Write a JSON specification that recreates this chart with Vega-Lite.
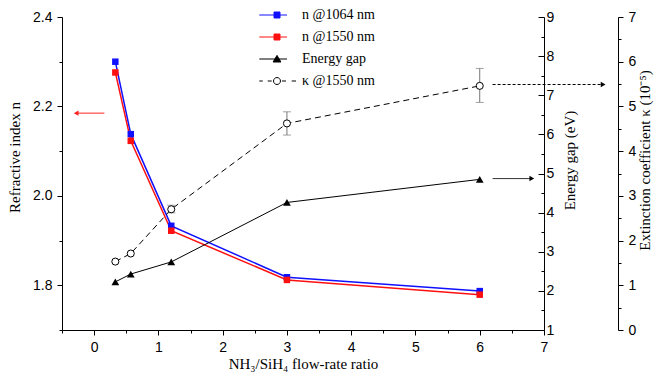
{
  "$schema": "https://vega.github.io/schema/vega-lite/v6.json",
  "width": 482,
  "height": 313,
  "autosize": "none",
  "padding": {"left": 62, "top": 17, "right": 110, "bottom": 46},
  "background": "white",
  "config": {
    "view": {"stroke": null},
    "axis": {
      "grid": false,
      "domainColor": "#000",
      "tickColor": "#000",
      "labelColor": "#000",
      "titleColor": "#000",
      "labelFont": "Liberation Sans",
      "labelFontSize": 14,
      "titleFont": "Liberation Serif",
      "titleFontSize": 15,
      "titleFontWeight": "normal",
      "domainWidth": 1,
      "tickWidth": 1,
      "labelOverlap": false,
      "tickCount": 100
    }
  },
  "datasets": {
    "pts": [
      {"series": "n @1064 nm", "x": 0.33, "v": 2.300},
      {"series": "n @1064 nm", "x": 0.57, "v": 2.138},
      {"series": "n @1064 nm", "x": 1.2, "v": 1.933},
      {"series": "n @1064 nm", "x": 3, "v": 1.818},
      {"series": "n @1064 nm", "x": 6, "v": 1.787},
      {"series": "n @1550 nm", "x": 0.33, "v": 2.276},
      {"series": "n @1550 nm", "x": 0.57, "v": 2.123},
      {"series": "n @1550 nm", "x": 1.2, "v": 1.922},
      {"series": "n @1550 nm", "x": 3, "v": 1.812},
      {"series": "n @1550 nm", "x": 6, "v": 1.779},
      {"series": "Energy gap", "x": 0.33, "v": 2.23},
      {"series": "Energy gap", "x": 0.57, "v": 2.43},
      {"series": "Energy gap", "x": 1.2, "v": 2.74},
      {"series": "Energy gap", "x": 3, "v": 4.26},
      {"series": "Energy gap", "x": 6, "v": 4.85},
      {"series": "κ @1550 nm", "x": 0.33, "v": 1.53, "lo": null, "hi": null},
      {"series": "κ @1550 nm", "x": 0.57, "v": 1.71, "lo": null, "hi": null},
      {"series": "κ @1550 nm", "x": 1.2, "v": 2.70, "lo": 2.62, "hi": 2.79},
      {"series": "κ @1550 nm", "x": 3, "v": 4.62, "lo": 4.36, "hi": 4.88},
      {"series": "κ @1550 nm", "x": 6, "v": 5.46, "lo": 5.09, "hi": 5.85}
    ],
    "arrows": [
      {"target": "n", "x1": -0.28, "x2": 0.16, "head": -0.28, "v": 2.185},
      {"target": "E", "x1": 6.2, "x2": 6.81, "head": 6.81, "v": 4.87},
      {"target": "k", "x1": 6.2, "x2": 7.92, "head": 7.92, "v": 5.49}
    ]
  },
  "layer": [
    {
      "layer": [
        {
          "data": {"name": "pts"},
          "transform": [{"filter": "datum.series == 'n @1064 nm'"}],
          "mark": {"type": "line", "color": "#1010ff", "strokeWidth": 1.5},
          "encoding": {
            "x": {"field": "x", "type": "quantitative", "title": "NH₃/SiH₄ flow-rate ratio",
              "scale": {"domain": [-0.5, 7], "nice": false, "zero": false},
              "axis": {
                "values": [-0.5, 0, 0.5, 1, 1.5, 2, 2.5, 3, 3.5, 4, 4.5, 5, 5.5, 6, 6.5, 7],
                "tickCount": 100,
                "labelExpr": "datum.value % 1 == 0 ? format(datum.value, 'd') : ''",
                "tickSize": {"condition": {"test": "datum.value % 1 != 0", "value": 3}, "value": 5},
                "labelPadding": 5,
                "titlePadding": 2,
                "labelFlush": false
              }
            },
            "y": {"field": "v", "type": "quantitative", "title": "Refractive index n",
              "scale": {"domain": [1.7, 2.4], "nice": false, "zero": false},
              "axis": {
                "values": [1.7, 1.8, 1.9, 2.0, 2.1, 2.2, 2.3, 2.4],
                "tickCount": 100,
                "labelExpr": "round(datum.value * 10) % 2 == 0 ? format(datum.value, '.1f') : ''",
                "tickSize": {"condition": {"test": "round(datum.value * 10) % 2 != 0", "value": 3}, "value": 5},
                "labelPadding": 5,
                "titlePadding": 10,
                "titleY": 140,
                "labelFlush": false
              }
            }
          }
        },
        {
          "data": {"name": "pts"},
          "transform": [{"filter": "datum.series == 'n @1550 nm'"}],
          "mark": {"type": "line", "color": "#ff1010", "strokeWidth": 1.5},
          "encoding": {
            "x": {"field": "x", "type": "quantitative", "title": "NH₃/SiH₄ flow-rate ratio"},
            "y": {"field": "v", "type": "quantitative", "title": "Refractive index n"}
          }
        },
        {
          "data": {"name": "pts"},
          "transform": [{"filter": "datum.series == 'n @1064 nm'"}],
          "mark": {"type": "point", "shape": "square", "filled": true, "color": "#1010ff", "size": 42, "opacity": 1},
          "encoding": {
            "x": {"field": "x", "type": "quantitative", "title": "NH₃/SiH₄ flow-rate ratio"},
            "y": {"field": "v", "type": "quantitative", "title": "Refractive index n"}
          }
        },
        {
          "data": {"name": "pts"},
          "transform": [{"filter": "datum.series == 'n @1550 nm'"}],
          "mark": {"type": "point", "shape": "square", "filled": true, "color": "#ff1010", "size": 42, "opacity": 1},
          "encoding": {
            "x": {"field": "x", "type": "quantitative", "title": "NH₃/SiH₄ flow-rate ratio"},
            "y": {"field": "v", "type": "quantitative", "title": "Refractive index n"}
          }
        },
        {
          "data": {"name": "arrows"},
          "transform": [{"filter": "datum.target == 'n'"}],
          "mark": {"type": "rule", "color": "#ff2020", "strokeWidth": 1},
          "encoding": {
            "x": {"field": "x1", "type": "quantitative", "title": "NH₃/SiH₄ flow-rate ratio"},
            "x2": {"field": "x2"},
            "y": {"field": "v", "type": "quantitative", "title": "Refractive index n"}
          }
        },
        {
          "data": {"name": "arrows"},
          "transform": [{"filter": "datum.target == 'n'"}],
          "mark": {"type": "point", "shape": "triangle-left", "filled": true, "color": "#ff2020", "size": 30, "opacity": 1},
          "encoding": {
            "x": {"field": "head", "type": "quantitative", "title": "NH₃/SiH₄ flow-rate ratio"},
            "y": {"field": "v", "type": "quantitative", "title": "Refractive index n"}
          }
        }
      ]
    },
    {
      "layer": [
        {
          "data": {"name": "pts"},
          "transform": [{"filter": "datum.series == 'Energy gap'"}],
          "mark": {"type": "line", "color": "#000", "strokeWidth": 1},
          "encoding": {
            "x": {"field": "x", "type": "quantitative", "title": "NH₃/SiH₄ flow-rate ratio"},
            "y": {"field": "v", "type": "quantitative", "title": "Energy gap (eV)",
              "scale": {"domain": [1, 9], "nice": false, "zero": false},
              "axis": {
                "orient": "right",
                "values": [1, 1.5, 2, 2.5, 3, 3.5, 4, 4.5, 5, 5.5, 6, 6.5, 7, 7.5, 8, 8.5, 9],
                "tickCount": 100,
                "labelExpr": "datum.value % 1 == 0 ? format(datum.value, 'd') : ''",
                "tickSize": {"condition": {"test": "datum.value % 1 != 0", "value": -3}, "value": -6},
                "labelPadding": 8,
                "titlePadding": 9,
                "titleAngle": 270,
                "titleBaseline": "top",
                "titleY": 143,
                "labelFlush": false
              }
            }
          }
        },
        {
          "data": {"name": "pts"},
          "transform": [{"filter": "datum.series == 'Energy gap'"}],
          "mark": {"type": "point", "shape": "triangle-up", "filled": true, "color": "#000", "size": 60, "opacity": 1},
          "encoding": {
            "x": {"field": "x", "type": "quantitative", "title": "NH₃/SiH₄ flow-rate ratio"},
            "y": {"field": "v", "type": "quantitative", "title": "Energy gap (eV)"}
          }
        },
        {
          "data": {"name": "arrows"},
          "transform": [{"filter": "datum.target == 'E'"}],
          "mark": {"type": "rule", "color": "#333", "strokeWidth": 1},
          "encoding": {
            "x": {"field": "x1", "type": "quantitative", "title": "NH₃/SiH₄ flow-rate ratio"},
            "x2": {"field": "x2"},
            "y": {"field": "v", "type": "quantitative", "title": "Energy gap (eV)"}
          }
        },
        {
          "data": {"name": "arrows"},
          "transform": [{"filter": "datum.target == 'E'"}],
          "mark": {"type": "point", "shape": "triangle-right", "filled": true, "color": "#000", "size": 30, "opacity": 1},
          "encoding": {
            "x": {"field": "head", "type": "quantitative", "title": "NH₃/SiH₄ flow-rate ratio"},
            "y": {"field": "v", "type": "quantitative", "title": "Energy gap (eV)"}
          }
        }
      ]
    },
    {
      "layer": [
        {
          "data": {"name": "pts"},
          "transform": [{"filter": "datum.series == 'κ @1550 nm'"}],
          "mark": {"type": "line", "color": "#000", "strokeWidth": 1, "strokeDash": [6, 4]},
          "encoding": {
            "x": {"field": "x", "type": "quantitative", "title": "NH₃/SiH₄ flow-rate ratio"},
            "y": {"field": "v", "type": "quantitative", "title": "Extinction coefficient  κ (10⁻⁵)",
              "scale": {"domain": [0, 7], "nice": false, "zero": false},
              "axis": {
                "orient": "right",
                "offset": 74,
                "values": [0, 0.5, 1, 1.5, 2, 2.5, 3, 3.5, 4, 4.5, 5, 5.5, 6, 6.5, 7],
                "tickCount": 100,
                "labelExpr": "datum.value % 1 == 0 ? format(datum.value, 'd') : ''",
                "tickSize": {"condition": {"test": "datum.value % 1 != 0", "value": 3}, "value": 5},
                "labelPadding": 5,
                "titlePadding": 2,
                "titleAngle": 270,
                "titleBaseline": "top",
                "titleY": 143,
                "labelFlush": false
              }
            }
          }
        },
        {
          "data": {"name": "pts"},
          "transform": [{"filter": "datum.series == 'κ @1550 nm' && isValid(datum.lo)"}],
          "mark": {"type": "rule", "color": "#777", "strokeWidth": 1},
          "encoding": {
            "x": {"field": "x", "type": "quantitative", "title": "NH₃/SiH₄ flow-rate ratio"},
            "y": {"field": "lo", "type": "quantitative", "title": "Extinction coefficient  κ (10⁻⁵)"},
            "y2": {"field": "hi"}
          }
        },
        {
          "data": {"name": "pts"},
          "transform": [{"filter": "datum.series == 'κ @1550 nm' && isValid(datum.lo)"}],
          "mark": {"type": "tick", "orient": "horizontal", "color": "#777", "size": 8, "thickness": 1},
          "encoding": {
            "x": {"field": "x", "type": "quantitative", "title": "NH₃/SiH₄ flow-rate ratio"},
            "y": {"field": "lo", "type": "quantitative", "title": "Extinction coefficient  κ (10⁻⁵)"}
          }
        },
        {
          "data": {"name": "pts"},
          "transform": [{"filter": "datum.series == 'κ @1550 nm' && isValid(datum.hi)"}],
          "mark": {"type": "tick", "orient": "horizontal", "color": "#777", "size": 8, "thickness": 1},
          "encoding": {
            "x": {"field": "x", "type": "quantitative", "title": "NH₃/SiH₄ flow-rate ratio"},
            "y": {"field": "hi", "type": "quantitative", "title": "Extinction coefficient  κ (10⁻⁵)"}
          }
        },
        {
          "data": {"name": "pts"},
          "transform": [{"filter": "datum.series == 'κ @1550 nm'"}],
          "mark": {"type": "point", "shape": "circle", "filled": true, "fill": "white", "stroke": "#000", "strokeWidth": 1, "size": 50, "opacity": 1},
          "encoding": {
            "x": {"field": "x", "type": "quantitative", "title": "NH₃/SiH₄ flow-rate ratio"},
            "y": {"field": "v", "type": "quantitative", "title": "Extinction coefficient  κ (10⁻⁵)"}
          }
        },
        {
          "data": {"name": "arrows"},
          "transform": [{"filter": "datum.target == 'k'"}],
          "mark": {"type": "rule", "color": "#000", "strokeWidth": 1.2, "strokeDash": [3, 2]},
          "encoding": {
            "x": {"field": "x1", "type": "quantitative", "title": "NH₃/SiH₄ flow-rate ratio"},
            "x2": {"field": "x2"},
            "y": {"field": "v", "type": "quantitative", "title": "Extinction coefficient  κ (10⁻⁵)"}
          }
        },
        {
          "data": {"name": "arrows"},
          "transform": [{"filter": "datum.target == 'k'"}],
          "mark": {"type": "point", "shape": "triangle-right", "filled": true, "color": "#000", "size": 30, "opacity": 1},
          "encoding": {
            "x": {"field": "head", "type": "quantitative", "title": "NH₃/SiH₄ flow-rate ratio"},
            "y": {"field": "v", "type": "quantitative", "title": "Extinction coefficient  κ (10⁻⁵)"}
          }
        }
      ]
    },
    {
      "data": {"name": "pts"},
      "mark": {"type": "point", "opacity": 0, "size": 144, "strokeWidth": 1},
      "encoding": {
        "shape": {"field": "series", "type": "nominal",
          "scale": {"domain": ["n @1064 nm", "n @1550 nm", "Energy gap", "κ @1550 nm"],
            "range": [
              "M-2.95,0H1.67M-0.5,-0.5H0.5V0.5H-0.5Z",
              "M-2.95,0H1.67M-0.5,-0.5H0.5V0.5H-0.5Z",
              "M-2.95,0H1.67M0,-0.6L0.65,0.5H-0.65Z",
              "M-2.95,0H-2.38M-1.55,0H-0.88M0.83,0H1.5M2.45,0H3.17M0.58,0A0.58,0.58,0,1,1,-0.58,0A0.58,0.58,0,1,1,0.58,0Z"
            ]},
          "legend": {
            "title": null,
            "orient": "none",
            "legendX": 208,
            "legendY": -9,
            "padding": 0,
            "symbolSize": 144,
            "symbolStrokeWidth": 1,
            "symbolOpacity": 1,
            "labelFont": "Liberation Serif",
            "labelFontSize": 14,
            "labelOffset": 18,
            "rowPadding": 8,
            "encode": {
              "labels": {"update": {"fill": {"signal": "datum.value == 'n @1064 nm' ? '#1010ff' : datum.value == 'n @1550 nm' ? '#ff1010' : '#000'"}}},
              "symbols": {"update": {"opacity": {"value": 1}}}
            }
          }
        },
        "fill": {"field": "series", "type": "nominal",
          "scale": {"domain": ["n @1064 nm", "n @1550 nm", "Energy gap", "κ @1550 nm"], "range": ["#1010ff", "#ff1010", "#000", "#fff"]}},
        "stroke": {"field": "series", "type": "nominal",
          "scale": {"domain": ["n @1064 nm", "n @1550 nm", "Energy gap", "κ @1550 nm"], "range": ["#1010ff", "#ff1010", "#000", "#000"]}}
      }
    }
  ],
  "resolve": {"scale": {"y": "independent"}, "axis": {"y": "independent"}}
}
